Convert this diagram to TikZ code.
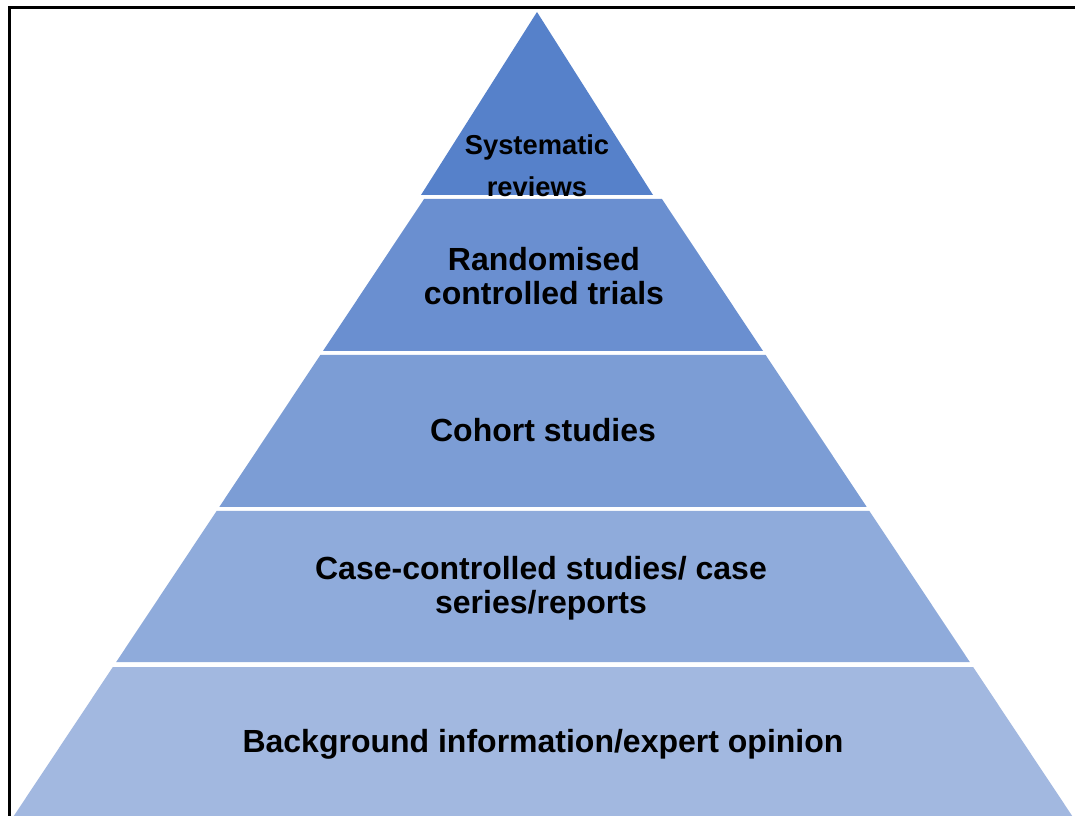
\documentclass[tikz,border=0pt]{standalone}
\usepackage{fontspec}
\setmainfont{Liberation Sans}
\usepackage{xcolor}
\usetikzlibrary{positioning}
\definecolor{lvlA}{HTML}{5681CA}
\definecolor{lvlB}{HTML}{6A8FD0}
\definecolor{lvlC}{HTML}{7C9DD5}
\definecolor{lvlD}{HTML}{8FABDB}
\definecolor{lvlE}{HTML}{A2B8E0}

\begin{document}
\begin{tikzpicture}[
  x=0.75pt, y=-0.75pt,
  lbl/.style    = {align=center, inner sep=0pt,
                   font=\bfseries\fontsize{24}{25.5}\selectfont},
  toplbl/.style = {align=center, inner sep=0pt,
                   font=\bfseries\fontsize{20.5}{31.5}\selectfont},
  frame/.style  = {line width=2.25pt, black},
]
  \useasboundingbox (0,0) rectangle (1075,816);
  \fill[white] (0,0) rectangle (1075,816);
  \draw[frame] (9,830) -- (9,8) -- (1085,8);
  % pyramid levels
  \fill[lvlA] (537,12) -- (653,195) -- (421,195) -- cycle;
  \foreach \ya/\yb/\col in {199/351/lvlB, 355/507/lvlC, 511/662/lvlD, 667/816/lvlE}{
    \pgfmathsetmacro\ha{220+0.665*(\ya-351)}
    \pgfmathsetmacro\hb{220+0.665*(\yb-351)}
    \fill[\col] ({543-\ha},\ya) -- ({543+\ha},\ya) -- ({543+\hb},\yb)
      -- ({543-\hb},\yb) -- cycle;
  }
  % labels
  \node[toplbl] (sysrev)  at (537,166) {Systematic\\reviews};
  \node[lbl]    (rct)     at (544,276) {Randomised\\controlled trials};
  \node[lbl]    (cohort)  at (543,430) {Cohort studies};
  \node[lbl]    (casectl) at (541,588) {Case-controlled studies/ case\\series/reports};
  \node[lbl]    (backgr)  at (543,744) {Background information/expert opinion};
\end{tikzpicture}
\end{document}
